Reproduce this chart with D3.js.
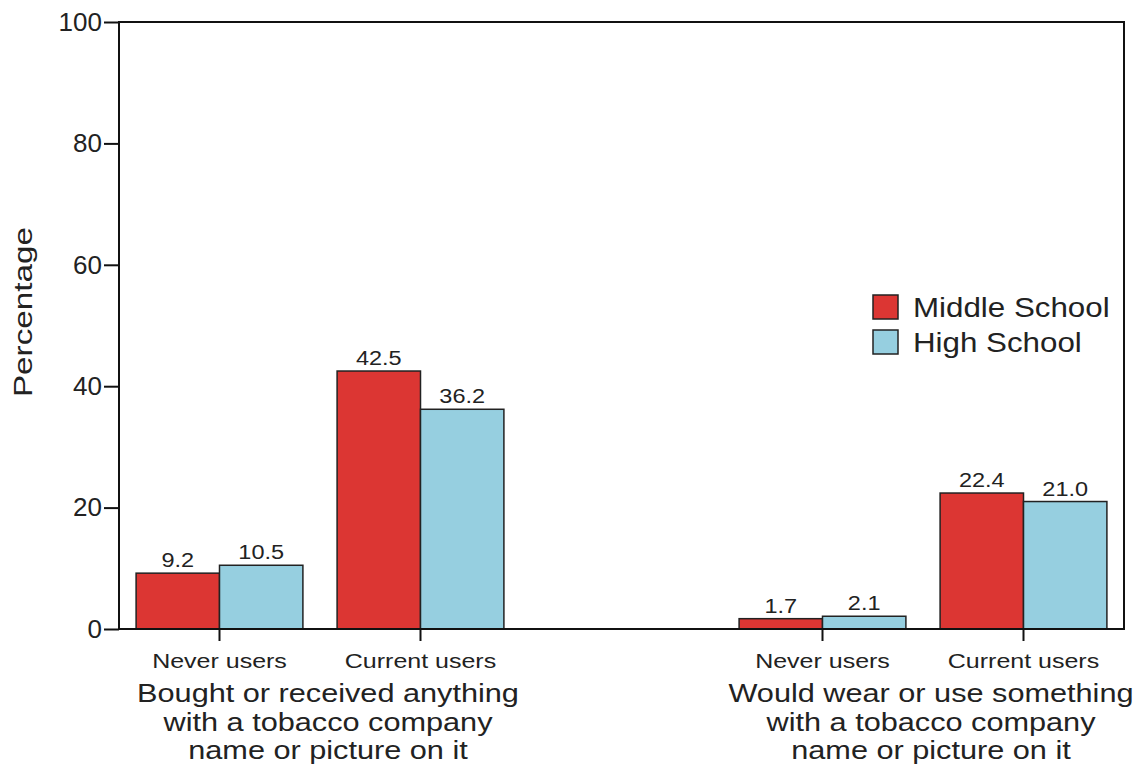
<!DOCTYPE html>
<html lang="en">
<head>
    <meta charset="UTF-8">
    <title>Tobacco promotion items</title>
    <script src="https://d3js.org/d3.v7.min.js"></script>
    <style>
        body { margin: 0; background: #fff; }
        text { font-family: "Liberation Sans", Arial, sans-serif; fill: #222; }
    </style>
</head>
<body>
    <svg class="chart"></svg>
    <script>
        // Data
        const questions = [
            ["Bought or received anything", "with a tobacco company", "name or picture on it"],
            ["Would wear or use something", "with a tobacco company", "name or picture on it"]
        ];
        const userGroups = ["Never users", "Current users"];
        const schools = ["Middle School", "High School"];
        const middleSchool = [9.2, 42.5, 1.7, 22.4];
        const highSchool = [10.5, 36.2, 2.1, 21.0];
        const yTicks = [0, 20, 40, 60, 80, 100];

        const colors = ["#dc3633", "#96cfe0"];

        // Dimensions
        const width = 1138, height = 767;
        const plot = { left: 119, right: 1124, top: 22, bottom: 629 };

        const svg = d3.select(".chart")
            .attr("width", width)
            .attr("height", height);

        // slots: two per question, plus an empty gap between questions
        const slots = ["q0-0", "q0-1", "gap", "q1-0", "q1-1"];
        const rows = [];
        questions.forEach((q, qi) => {
            userGroups.forEach((g, gi) => {
                const i = qi * 2 + gi;
                rows.push({ slot: `q${qi}-${gi}`, group: g, q: qi, values: [middleSchool[i], highSchool[i]] });
            });
        });

        const x0 = d3.scaleBand().domain(slots).range([plot.left, plot.right]).padding(0);
        const x1 = d3.scaleBand().domain(schools).range([0, x0.bandwidth()]).paddingOuter(0.205).paddingInner(0);
        const y = d3.scaleLinear().domain([0, 100]).range([plot.bottom, plot.top]);

        // stretched text helper (the original lettering is wide)
        function label(x, yPos, str, size, sx, anchor) {
            return svg.append("text")
                .attr("transform", `translate(${x},${yPos}) scale(${sx},1)`)
                .attr("text-anchor", anchor || "middle")
                .attr("font-size", size)
                .text(str);
        }

        // Bars
        const groups = svg.selectAll(".grp")
            .data(rows)
            .join("g")
            .attr("class", "grp")
            .attr("transform", d => `translate(${x0(d.slot)},0)`);

        groups.selectAll("rect")
            .data(d => d.values.map((v, i) => ({ v, s: schools[i], i })))
            .join("rect")
            .attr("x", d => x1(d.s))
            .attr("y", d => y(d.v))
            .attr("width", x1.bandwidth())
            .attr("height", d => y(0) - y(d.v))
            .attr("fill", d => colors[d.i])
            .attr("stroke", "#222")
            .attr("stroke-width", 1.5);

        // value labels
        rows.forEach(r => {
            r.values.forEach((v, i) => {
                const cx = x0(r.slot) + x1(schools[i]) + x1.bandwidth() / 2;
                label(cx, y(v) - 6, v.toFixed(1), 21, 1.12);
            });
        });

        // Frame
        svg.append("rect")
            .attr("x", plot.left).attr("y", plot.top)
            .attr("width", plot.right - plot.left).attr("height", plot.bottom - plot.top)
            .attr("fill", "none")
            .attr("stroke", "#111")
            .attr("stroke-width", 2);

        // Y axis
        const yAxis = svg.append("g")
            .attr("transform", `translate(${plot.left},0)`)
            .call(d3.axisLeft(y).tickValues(yTicks).tickSize(15).tickPadding(2));
        yAxis.select(".domain").remove();
        yAxis.selectAll("line").attr("stroke", "#111").attr("stroke-width", 2);
        yAxis.selectAll("text")
            .attr("font-size", 26)
            .attr("font-family", "'Liberation Sans', Arial, sans-serif")
            .attr("fill", "#222");

        // X ticks under each user group
        const xAxis = svg.append("g")
            .attr("transform", `translate(0,${plot.bottom})`)
            .call(d3.axisBottom(x0).tickValues(rows.map(r => r.slot)).tickSize(12).tickFormat(""));
        xAxis.select(".domain").remove();
        xAxis.selectAll("line").attr("stroke", "#111").attr("stroke-width", 2);

        rows.forEach(r => {
            label(x0(r.slot) + x0.bandwidth() / 2, 668, r.group, 20, 1.25);
        });

        // question labels
        questions.forEach((lines, qi) => {
            const cx = (x0(`q${qi}-0`) + x0(`q${qi}-1`)) / 2 + x0.bandwidth() / 2 + 8;
            lines.forEach((ln, li) => {
                label(cx, 702 + li * 28.5, ln, 26, 1.18);
            });
        });

        // Y title
        svg.append("text")
            .attr("transform", `translate(32,312) rotate(-90) scale(1.28,1)`)
            .attr("text-anchor", "middle")
            .attr("font-size", 26)
            .text("Percentage");

        // Legend
        const legend = svg.append("g").attr("transform", "translate(873,295)");
        schools.forEach((s, i) => {
            legend.append("rect")
                .attr("x", 0).attr("y", i * 35)
                .attr("width", 25).attr("height", 24)
                .attr("fill", colors[i])
                .attr("stroke", "#222")
                .attr("stroke-width", 1.5);
            legend.append("text")
                .attr("transform", `translate(40,${i * 35 + 22}) scale(1.16,1)`)
                .attr("font-size", 27)
                .text(s);
        });
    </script>
</body>
</html>
